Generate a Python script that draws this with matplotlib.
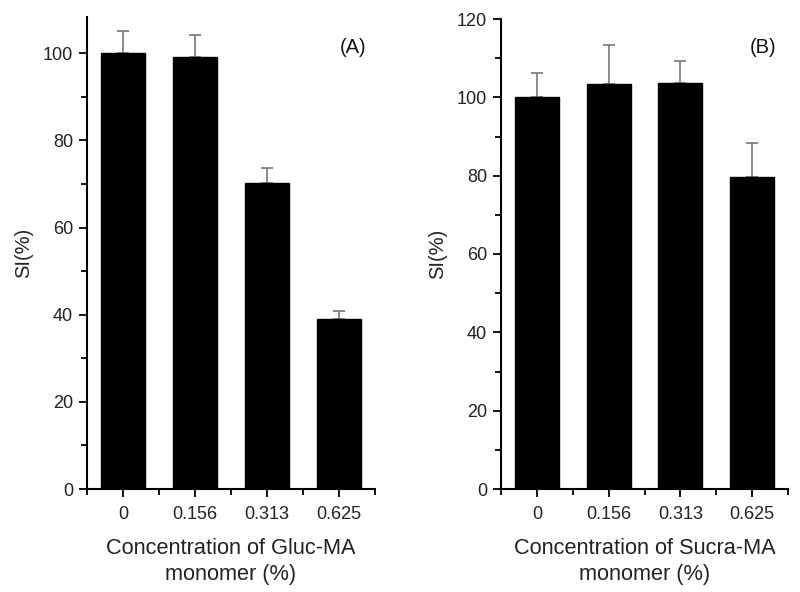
import matplotlib
matplotlib.use("Agg")
import matplotlib.pyplot as plt
from matplotlib.ticker import MultipleLocator, FixedLocator

plt.rcParams['font.family'] = ['Liberation Sans', 'DejaVu Sans']

categories = ["0", "0.156", "0.313", "0.625"]
si_gluc = [100.0, 99.2, 70.1, 39.0]
err_gluc = [5.0, 5.0, 3.5, 1.8]
si_sucra = [100.0, 103.3, 103.6, 79.7]
err_sucra = [6.2, 10.0, 5.6, 8.6]

fig = plt.figure(figsize=(8, 5.92), dpi=100)
axA = fig.add_axes([87/800, 1-489/592, (375-87)/800, (489-17)/592])
axB = fig.add_axes([501/800, 1-489/592, (788-501)/800, (489-19)/592])

def draw(ax, vals, errs, ymax, xlabel, tag, tagpos):
    x = list(range(len(categories)))
    ax.bar(x, vals, width=0.61, color='black', edgecolor='black', zorder=2)
    ax.errorbar(x, vals, yerr=[[0]*len(errs), errs], fmt='none', ecolor='#777777',
                elinewidth=1.2, capsize=4, capthick=1.2, zorder=1)
    ax.set_xlim(-0.5, 3.5)
    ax.set_ylim(0, ymax)
    ax.set_xticks(x)
    ax.set_xticklabels(categories)
    ax.xaxis.set_minor_locator(FixedLocator([-0.5, 0.5, 1.5, 2.5, 3.5]))
    ax.yaxis.set_major_locator(MultipleLocator(20))
    ax.yaxis.set_minor_locator(MultipleLocator(10))
    for s in ['top', 'right']:
        ax.spines[s].set_visible(False)
    for s in ['left', 'bottom']:
        ax.spines[s].set_linewidth(1.5)
    ax.tick_params(axis='both', which='major', direction='out', length=6, width=1.3,
                   labelsize=13, labelcolor='#222222')
    ax.tick_params(axis='x', which='major', pad=6)
    ax.tick_params(axis='y', which='major', pad=4)
    ax.tick_params(axis='both', which='minor', direction='out', length=4, width=1.3)
    ax.set_ylabel("SI(%)", fontsize=14.5, color='#222222', labelpad=7)
    ax.set_xlabel(xlabel, fontsize=15.7, color='#222222', labelpad=11, linespacing=1.3)
    ax.text(tagpos[0], tagpos[1], tag, fontsize=14.5, color='#111111', ha='center', va='center')

draw(axA, si_gluc, err_gluc, 108.3, "Concentration of Gluc-MA\nmonomer (%)", "(A)", (3.19, 101.4))
draw(axB, si_sucra, err_sucra, 120, "Concentration of Sucra-MA\nmonomer (%)", "(B)", (3.15, 112.8))

fig.savefig("out.png", dpi=100)
